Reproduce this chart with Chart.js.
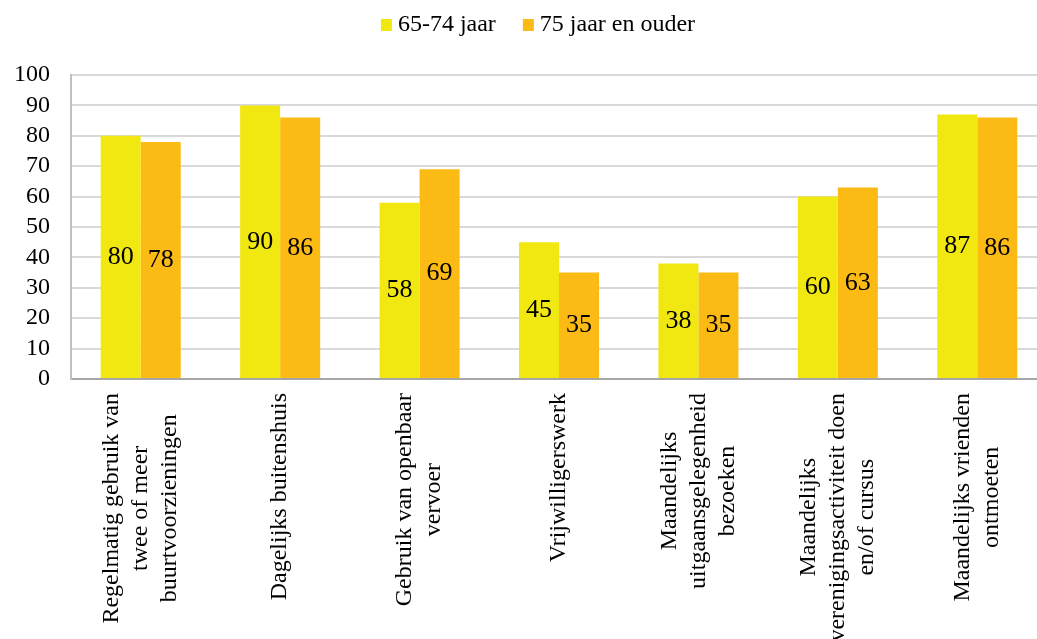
<!DOCTYPE html>
<html>
<head>
<meta charset="utf-8">
<script src="https://cdn.jsdelivr.net/npm/chart.js@4"></script>
<style>
  html, body { margin: 0; padding: 0; background: #fff; overflow: hidden; }
  #wrap { width: 1037px; height: 639px; overflow: hidden; }
</style>
</head>
<body>
<div id="wrap"><canvas id="chart" width="1047" height="639"></canvas></div>
<script>
// categories, one array entry per label line
const categories = [
  ["Regelmatig gebruik van", "twee of meer", "buurtvoorzieningen"],
  ["Dagelijks buitenshuis"],
  ["Gebruik van openbaar", "vervoer"],
  ["Vrijwilligerswerk"],
  ["Maandelijks", "uitgaansgelegenheid", "bezoeken"],
  ["Maandelijks", "verenigingsactiviteit doen", "en/of cursus"],
  ["Maandelijks vrienden", "ontmoeten"]
];
const seriesNames = ["65-74 jaar", "75 jaar en ouder"];
const age65to74 = [80, 90, 58, 45, 38, 60, 87];
const age75plus = [78, 86, 69, 35, 35, 63, 86];

const serif = "'Liberation Serif', 'Times New Roman', serif";
Chart.defaults.font.family = serif;
Chart.defaults.color = "#000";

// numbers in the middle of each bar
const valueLabels = {
  id: "valueLabels",
  afterDatasetsDraw(chart) {
    const ctx = chart.ctx;
    ctx.save();
    ctx.font = "26px " + serif;
    ctx.fillStyle = "#000";
    ctx.textAlign = "center";
    ctx.textBaseline = "middle";
    chart.data.datasets.forEach((ds, i) => {
      chart.getDatasetMeta(i).data.forEach((bar, j) => {
        ctx.fillText(ds.data[j], bar.x, (bar.y + bar.base) / 2);
      });
    });
    ctx.restore();
  }
};

// rotated category labels, lines centred on each other
const xLabels = {
  id: "xLabels",
  afterDraw(chart) {
    const ctx = chart.ctx;
    const xs = chart.scales.x;
    ctx.save();
    ctx.font = "24px " + serif;
    ctx.fillStyle = "#000";
    ctx.textAlign = "center";
    ctx.textBaseline = "middle";
    categories.forEach((lines, i) => {
      const cx = xs.getPixelForValue(i);
      const longest = Math.max(...lines.map(t => ctx.measureText(t).width));
      ctx.save();
      ctx.translate(cx, xs.top + 14 + longest / 2);
      ctx.rotate(-Math.PI / 2);
      lines.forEach((t, j) => {
        ctx.fillText(t, 0, (j - (lines.length - 1) / 2) * 29);
      });
      ctx.restore();
    });
    ctx.restore();
  }
};

// legend row at the top, small square + name
const topLegend = {
  id: "topLegend",
  afterDraw(chart) {
    const ctx = chart.ctx;
    ctx.save();
    ctx.font = "24px " + serif;
    ctx.textBaseline = "middle";
    ctx.textAlign = "left";
    const box = 11, boxGap = 6, itemGap = 27, cy = 25, centre = 538;
    const items = chart.data.datasets.map(ds => ({
      text: ds.label,
      color: ds.backgroundColor,
      w: ctx.measureText(ds.label).width
    }));
    const total = items.reduce((s, it) => s + box + boxGap + it.w, 0) + itemGap * (items.length - 1);
    let x = centre - total / 2;
    items.forEach(it => {
      ctx.fillStyle = it.color;
      ctx.fillRect(x, cy - 6, box, 12);
      x += box + boxGap;
      ctx.fillStyle = "#000";
      ctx.fillText(it.text, x, cy);
      x += it.w + itemGap;
    });
    ctx.restore();
  }
};

new Chart(document.getElementById("chart"), {
  type: "bar",
  data: {
    labels: categories.map(c => c.join(" ")),
    datasets: [
      {
        label: seriesNames[0],
        data: age65to74,
        backgroundColor: "#F2E811",
        borderWidth: 0,
        categoryPercentage: 0.574,
        barPercentage: 1
      },
      {
        label: seriesNames[1],
        data: age75plus,
        backgroundColor: "#FCBA14",
        borderWidth: 0,
        categoryPercentage: 0.574,
        barPercentage: 1
      }
    ]
  },
  options: {
    responsive: false,
    animation: false,
    devicePixelRatio: 1,
    layout: { padding: 0 },
    plugins: {
      legend: { display: false },
      // empty block reserving room for the legend row
      title: {
        display: true,
        text: "",
        font: { size: 10, lineHeight: 1 },
        padding: { top: 0, bottom: 65 }
      },
      tooltip: { enabled: false }
    },
    scales: {
      x: {
        grid: { display: false, drawTicks: false },
        border: { display: true, color: "#a6a6a6", width: 2 },
        ticks: { display: false },
        afterFit: s => { s.height = 260; }
      },
      y: {
        min: 0,
        max: 100,
        ticks: { stepSize: 10, autoSkip: false, padding: 21, font: { size: 24 } },
        grid: { color: "#d9d9d9", lineWidth: 2, drawTicks: false },
        border: { display: true, color: "#bfbfbf", width: 2 },
        afterFit: s => { s.width = 71; }
      }
    }
  },
  plugins: [valueLabels, xLabels, topLegend]
});
</script>
</body>
</html>
